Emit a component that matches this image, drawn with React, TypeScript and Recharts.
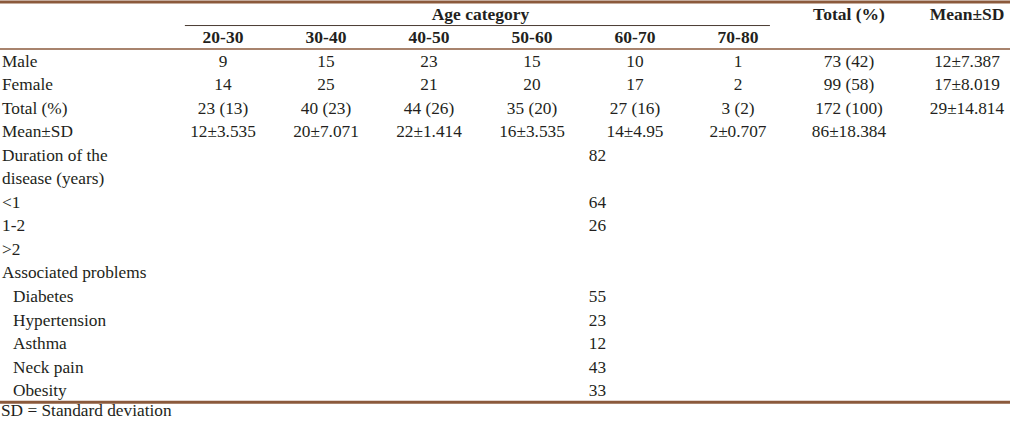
import { ComposedChart, XAxis, YAxis, Scatter, ReferenceLine } from "recharts";

// Age category columns
const AGE_GROUPS = ["20-30", "30-40", "40-50", "50-60", "60-70", "70-80"];
const MALE = [9, 15, 23, 15, 10, 1];
const FEMALE = [14, 25, 21, 20, 17, 2];
const TOTAL_N = [23, 40, 44, 35, 27, 3];
const TOTAL_PCT = [13, 23, 26, 20, 16, 2];
const AGE_MEAN = [12, 20, 22, 16, 14, 2];
const AGE_SD = [3.535, 7.071, 1.414, 3.535, 4.95, 0.707];

// Row totals / mean±SD columns
const SEX_ROWS = ["Male", "Female", "Total (%)", "Mean±SD"];
const SEX_TOTAL_N = [73, 99, 172];
const SEX_TOTAL_PCT = [42, 58, 100];
const SEX_MEAN = [12, 17, 29];
const SEX_SD = [7.387, 8.019, 14.814];
const GRAND_MEAN = 86;
const GRAND_SD = 18.384;

// Lower block (single spanning value column)
const DURATION_LINES = ["Duration of the", "disease (years)", "<1", "1-2", ">2"];
const DURATION_VALUES = [82, null, 64, 26, null];
const PROBLEMS_TITLE = "Associated problems";
const PROBLEMS = ["Diabetes", "Hypertension", "Asthma", "Neck pain", "Obesity"];
const PROBLEM_COUNTS = [55, 23, 12, 43, 33];

const FOOTNOTE = "SD = Standard deviation";

const FONT = "'Liberation Serif', 'Times New Roman', Times, serif";
const INK = "#231f20";
const RULE = "#8b5a3c";

type Cell = { x: number; y: number; text: string };

// row indices on the y scale
const HEAD_TOP = -2;
const HEAD_SUB = -1;
const SEX_START = 0;
const DURATION_START = 4;
const PROBLEMS_ROW = 9;
const PROBLEMS_START = 10;
const FOOT_ROW = 15;

function cellText(
  anchor: "start" | "middle",
  bold = false,
  dx = 0,
  dy = "0.33em",
) {
  // eslint-disable-next-line @typescript-eslint/no-explicit-any
  return (props: any) => (
    <text
      x={props.cx + dx}
      y={props.cy}
      dy={dy}
      textAnchor={anchor}
      fontFamily={FONT}
      fontSize={bold ? 17.5 : 17.3}
      fontWeight={bold ? 700 : 400}
      fill={INK}
    >
      {props.payload.text}
    </text>
  );
}

export default function App() {
  const ageHeaders: Cell[] = [
    { x: (AGE_GROUPS.length - 1) / 2, y: HEAD_TOP, text: "Age category" },
    ...AGE_GROUPS.map((g, i) => ({ x: i, y: HEAD_SUB, text: g })),
  ];

  const ageCells: Cell[] = AGE_GROUPS.flatMap((_, i) => [
    { x: i, y: SEX_START, text: String(MALE[i]) },
    { x: i, y: SEX_START + 1, text: String(FEMALE[i]) },
    { x: i, y: SEX_START + 2, text: `${TOTAL_N[i]} (${TOTAL_PCT[i]})` },
    { x: i, y: SEX_START + 3, text: `${AGE_MEAN[i]}±${AGE_SD[i]}` },
  ]);

  const sumHeaders: Cell[] = [
    { x: 0, y: HEAD_TOP, text: "Total (%)" },
    { x: 1, y: HEAD_TOP, text: "Mean±SD" },
  ];

  const sumCells: Cell[] = [
    ...SEX_TOTAL_N.map((n, i) => ({
      x: 0,
      y: SEX_START + i,
      text: `${n} (${SEX_TOTAL_PCT[i]})`,
    })),
    { x: 0, y: SEX_START + 3, text: `${GRAND_MEAN}±${GRAND_SD}` },
    ...SEX_MEAN.map((m, i) => ({
      x: 1,
      y: SEX_START + i,
      text: `${m}±${SEX_SD[i]}`,
    })),
  ];

  const spanCells: Cell[] = [
    ...DURATION_VALUES.flatMap((v, i) =>
      v === null ? [] : [{ x: 0.5, y: DURATION_START + i, text: String(v) }],
    ),
    ...PROBLEM_COUNTS.map((v, i) => ({
      x: 0.5,
      y: PROBLEMS_START + i,
      text: String(v),
    })),
  ];

  const labels: Cell[] = [
    ...SEX_ROWS.map((t, i) => ({ x: 0, y: SEX_START + i, text: t })),
    ...DURATION_LINES.map((t, i) => ({ x: 0, y: DURATION_START + i, text: t })),
    { x: 0, y: PROBLEMS_ROW, text: PROBLEMS_TITLE },
  ];

  const problemLabels: Cell[] = PROBLEMS.map((t, i) => ({
    x: 0,
    y: PROBLEMS_START + i,
    text: t,
  }));

  const footnote: Cell[] = [{ x: 0, y: FOOT_ROW, text: FOOTNOTE }];

  return (
    <div style={{ width: 1010, height: 421, background: "#fff" }}>
      <style>{`body { margin: 0; }`}</style>
      <ComposedChart
        width={1010}
        height={421}
        margin={{ top: 0, right: 0, bottom: 0, left: 0 }}
      >
        <XAxis
          xAxisId="lab"
          type="number"
          dataKey="x"
          domain={[0, 1]}
          hide
          padding={{ left: 2, right: 0 }}
        />
        <XAxis
          xAxisId="age"
          type="number"
          dataKey="x"
          domain={[0, 5]}
          hide
          padding={{ left: 223, right: 272 }}
        />
        <XAxis
          xAxisId="sum"
          type="number"
          dataKey="x"
          domain={[0, 1]}
          hide
          padding={{ left: 849, right: 43 }}
        />
        <XAxis
          xAxisId="span"
          type="number"
          dataKey="x"
          domain={[0, 1]}
          hide
          padding={{ left: 185, right: 0 }}
        />
        <YAxis
          yAxisId="row"
          type="number"
          dataKey="y"
          domain={[-2.5, 15]}
          reversed
          hide
          padding={{ top: 2, bottom: 7 }}
        />

        {/* table rules */}
        <ReferenceLine
          xAxisId="lab"
          yAxisId="row"
          y={-2.5}
          stroke={RULE}
          strokeWidth={3}
          ifOverflow="visible"
        />
        <ReferenceLine
          xAxisId="age"
          yAxisId="row"
          segment={[
            { x: -0.37, y: -1.5 },
            { x: 5.31, y: -1.5 },
          ]}
          stroke="#4a3a32"
          strokeWidth={1}
          ifOverflow="visible"
        />
        <ReferenceLine
          xAxisId="lab"
          yAxisId="row"
          y={-0.5}
          stroke={RULE}
          strokeWidth={1.5}
          ifOverflow="visible"
        />
        <ReferenceLine
          xAxisId="lab"
          yAxisId="row"
          y={14.5}
          stroke={RULE}
          strokeWidth={3}
          ifOverflow="visible"
        />

        <Scatter
          xAxisId="age"
          yAxisId="row"
          data={ageHeaders}
          shape={cellText("middle", true)}
          isAnimationActive={false}
        />
        <Scatter
          xAxisId="age"
          yAxisId="row"
          data={ageCells}
          shape={cellText("middle")}
          isAnimationActive={false}
        />
        <Scatter
          xAxisId="sum"
          yAxisId="row"
          data={sumHeaders}
          shape={cellText("middle", true)}
          isAnimationActive={false}
        />
        <Scatter
          xAxisId="sum"
          yAxisId="row"
          data={sumCells}
          shape={cellText("middle")}
          isAnimationActive={false}
        />
        <Scatter
          xAxisId="span"
          yAxisId="row"
          data={spanCells}
          shape={cellText("middle")}
          isAnimationActive={false}
        />
        <Scatter
          xAxisId="lab"
          yAxisId="row"
          data={labels}
          shape={cellText("start")}
          isAnimationActive={false}
        />
        <Scatter
          xAxisId="lab"
          yAxisId="row"
          data={problemLabels}
          shape={cellText("start", false, 11)}
          isAnimationActive={false}
        />
        {/* footnote sits just under the bottom rule */}
        <Scatter
          xAxisId="lab"
          yAxisId="row"
          data={footnote}
          shape={cellText("start", false, -1, "0.12em")}
          isAnimationActive={false}
        />
      </ComposedChart>
    </div>
  );
}
